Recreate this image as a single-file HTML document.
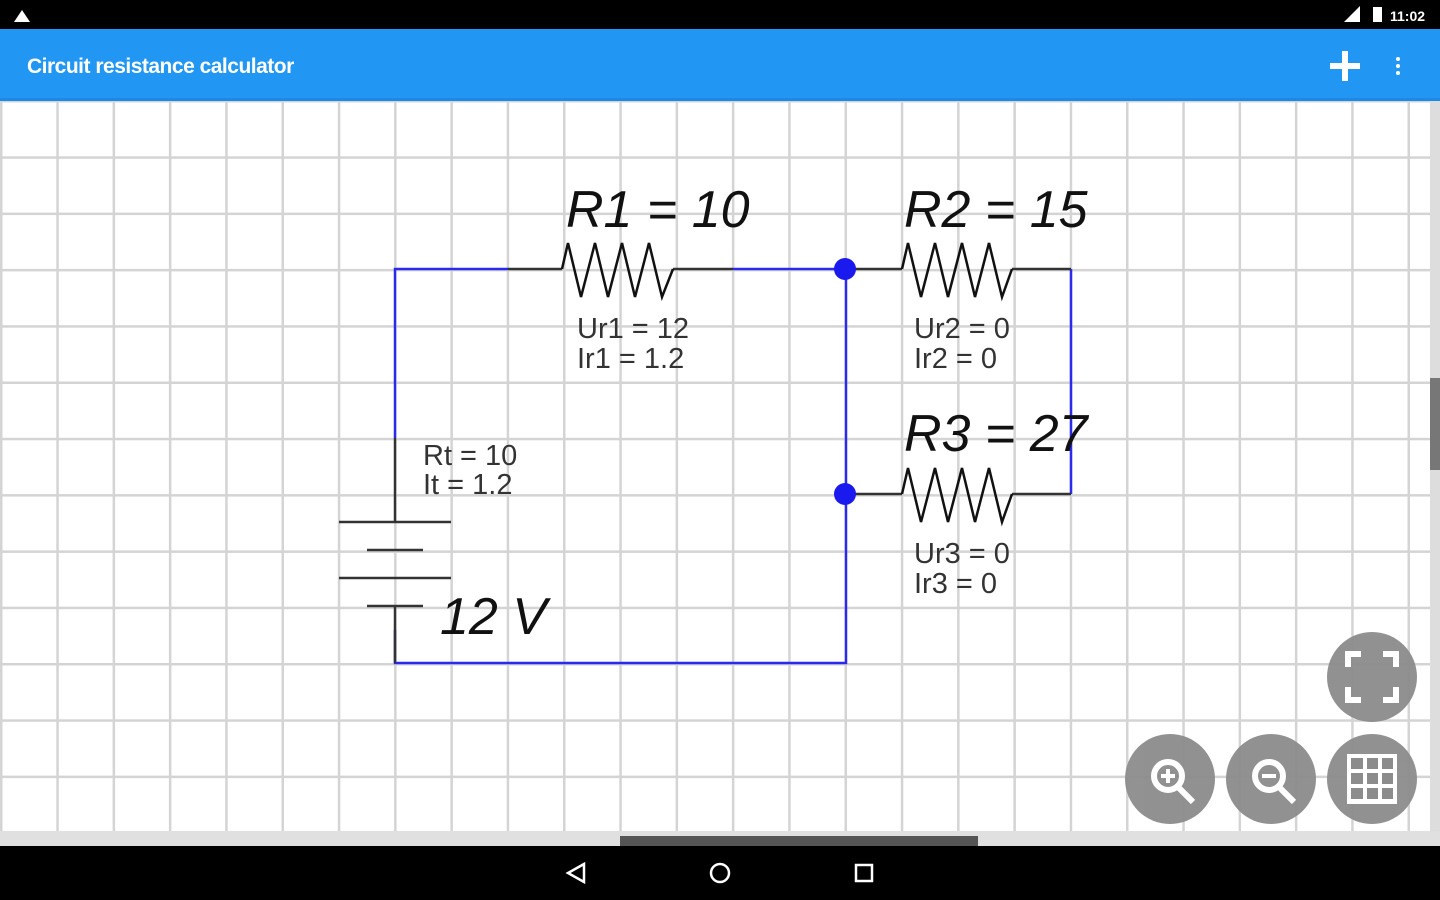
<!DOCTYPE html>
<html><head><meta charset="utf-8"><style>
html,body{margin:0;padding:0;width:1440px;height:900px;overflow:hidden;background:#fff;font-family:"Liberation Sans",sans-serif}
</style></head><body>
<svg width="1440" height="900" xmlns="http://www.w3.org/2000/svg" style="position:absolute;left:0;top:0">
<defs>
<pattern id="g" x="0" y="100" width="56.3" height="56.3" patternUnits="userSpaceOnUse">
<path d="M1 0V56.3M0 1H56.3" stroke="#d4d4d4" stroke-width="3" fill="none"/>
</pattern>
</defs>
<rect x="0" y="100" width="1440" height="746" fill="url(#g)"/>
<rect x="0" y="831" width="1440" height="15" fill="#e0e0e0"/>
<rect x="620" y="836" width="358" height="10" fill="#555"/>
<rect x="1430" y="100" width="10" height="731" fill="#ddd"/>
<rect x="1430" y="378" width="10" height="92" fill="#777"/>
<!-- status bar -->
<rect x="0" y="0" width="1440" height="29" fill="#000"/>
<path d="M22 10L14 22H30Z" fill="#fff"/>
<text x="1390" y="21" fill="#fff" font-size="14" font-weight="bold">11:02</text>
<rect x="1373" y="7" width="9" height="15" fill="#fff"/>
<path d="M1344 22L1360 6V22Z" fill="#fff"/>
<!-- app bar -->
<rect x="0" y="29" width="1440" height="71" fill="#2196f3"/>
<rect x="0" y="98" width="1440" height="3" fill="#1e88e5"/>
<text x="27" y="73" fill="#fff" font-size="21" font-weight="bold" letter-spacing="-0.5">Circuit resistance calculator</text>
<path d="M1345 51V81M1330 66H1360" stroke="#fff" stroke-width="6"/>
<circle cx="1398" cy="59" r="2" fill="#fff"/><circle cx="1398" cy="66" r="2" fill="#fff"/><circle cx="1398" cy="73" r="2" fill="#fff"/>
<!-- wires -->
<g fill="none" stroke-width="2.5">
<path d="M395 438V269H508M733 269H846M846 269V663H395V630" stroke="#2a2aee"/>
<path d="M1071 269V494" stroke="#2a2aee"/>
<path d="M508 269H562M673 269H733M846 269H902M1012 269H1071M846 494H902M1012 494H1071" stroke="#333"/>
<path d="M395 438V522M339 522H451M367 550H423M339 578H451M367 606H423M395 606V663" stroke="#333"/>
<path d="M562 269L568 243L581 297L595 243L608 297L622 243L635 297L649 243L662 297L673 269" stroke="#111"/>
<path d="M902 269L908 243L921 297L935 243L948 297L962 243L975 297L989 243L1002 297L1012 269" stroke="#111"/>
<path d="M902 494L908 468L921 522L935 468L948 522L962 468L975 522L989 468L1002 522L1012 494" stroke="#111"/>
</g>
<circle cx="845" cy="269" r="11" fill="#1a1aee"/>
<circle cx="845" cy="494" r="11" fill="#1a1aee"/>
<g font-style="italic" font-size="52" fill="#111">
<text x="566" y="227">R1 = 10</text>
<text x="904" y="227">R2 = 15</text>
<text x="904" y="451">R3 = 27</text>
<text x="440" y="634">12 V</text>
</g>
<g font-size="29" fill="#333">
<text x="577" y="338">Ur1 = 12</text><text x="577" y="368">Ir1 = 1.2</text>
<text x="914" y="338">Ur2 = 0</text><text x="914" y="368">Ir2 = 0</text>
<text x="914" y="563">Ur3 = 0</text><text x="914" y="593">Ir3 = 0</text>
<text x="423" y="465">Rt = 10</text><text x="423" y="494">It = 1.2</text>
</g>
<!-- buttons -->
<g fill="#8c8c8c" opacity="0.95">
<circle cx="1372" cy="677" r="45"/><circle cx="1170" cy="779" r="45"/><circle cx="1271" cy="779" r="45"/><circle cx="1372" cy="779" r="45"/>
</g>
<g fill="none" stroke="#fff" stroke-width="6">
<path d="M1348 667V654H1361M1383 654H1396V667M1396 687V700H1383M1361 700H1348V687"/>
<circle cx="1168" cy="776" r="14"/><path d="M1178 787L1193 802"/>
<circle cx="1269" cy="776" r="14"/><path d="M1279 787L1294 802"/>
<path d="M1161 776H1175M1168 769V783" stroke-width="4"/>
<path d="M1262 776H1276" stroke-width="4"/>
</g>
<rect x="1347" y="754" width="50" height="50" fill="#fff"/>
<g fill="#8c8c8c">
<rect x="1351" y="758" width="12" height="11"/><rect x="1367" y="758" width="11" height="11"/><rect x="1382" y="758" width="11" height="11"/>
<rect x="1351" y="773" width="12" height="11"/><rect x="1367" y="773" width="11" height="11"/><rect x="1382" y="773" width="11" height="11"/>
<rect x="1351" y="788" width="12" height="11"/><rect x="1367" y="788" width="11" height="11"/><rect x="1382" y="788" width="11" height="11"/>
</g>
<!-- nav bar -->
<rect x="0" y="846" width="1440" height="54" fill="#000"/>
<path d="M584 864L568 873L584 882Z" fill="none" stroke="#fff" stroke-width="2.5"/>
<circle cx="720" cy="873" r="9" fill="none" stroke="#fff" stroke-width="2.5"/>
<rect x="856" y="865" width="16" height="16" fill="none" stroke="#fff" stroke-width="2.5"/>
</svg>
</body></html>
